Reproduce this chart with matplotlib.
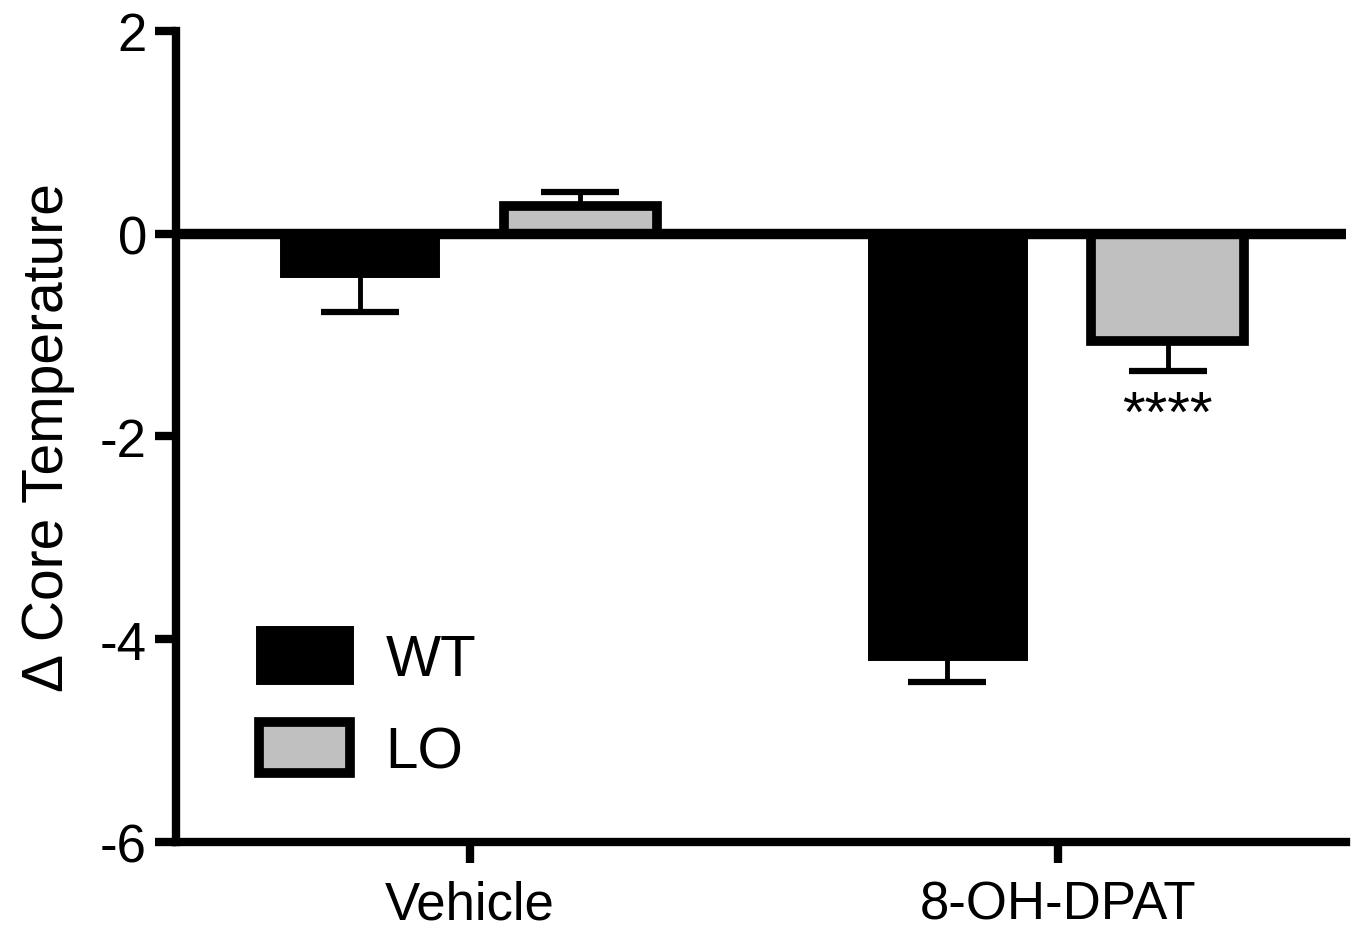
import numpy as np
import matplotlib.pyplot as plt
from matplotlib.patches import Patch

plt.rcParams['font.family'] = ['Liberation Sans', 'DejaVu Sans']

# data
categories = ["Vehicle", "8-OH-DPAT"]
wt_mean = [-0.40, -4.18]
wt_sem = [0.37, 0.24]
lo_mean = [0.27, -1.06]
lo_sem = [0.14, 0.29]
y_ticks = [2, 0, -2, -4, -6]

BAR_W = 0.26
OFF = 0.1875
GREY = "#c0c0c0"

fig = plt.figure(figsize=(13.55, 9.29), dpi=100)
ax = fig.add_axes([0.130, 0.0926, 0.863, 0.873])

x = np.arange(len(categories))


def one_sided(means, errs):
    # error bar only away from zero, like Prism draws it
    lo = [e if m < 0 else 0 for m, e in zip(means, errs)]
    hi = [e if m >= 0 else 0 for m, e in zip(means, errs)]
    return [lo, hi]


ax.bar(x - OFF, wt_mean, BAR_W, color="black", edgecolor="black",
       linewidth=5, zorder=3)
ax.bar(x + OFF, lo_mean, BAR_W, color=GREY, edgecolor="black",
       linewidth=7, zorder=3)
ax.errorbar(x - OFF, wt_mean, yerr=one_sided(wt_mean, wt_sem), fmt="none",
            ecolor="black", elinewidth=3.5, capsize=28, capthick=4.5, zorder=2)
ax.errorbar(x + OFF, lo_mean, yerr=one_sided(lo_mean, lo_sem), fmt="none",
            ecolor="black", elinewidth=3.5, capsize=28, capthick=4.5, zorder=2)

# zero line
ax.axhline(0, color="black", linewidth=7.5, zorder=4)

# significance stars under LO 8-OH-DPAT
ax.text(x[1] + OFF, lo_mean[1] - lo_sem[1] - 0.18, "****", ha="center",
        va="top", fontsize=42)

ax.set_xlim(-0.5, 1.49)
ax.set_ylim(-6, 2)
ax.set_yticks(y_ticks)
ax.set_yticklabels([str(v) for v in y_ticks])
ax.set_xticks(x)
ax.set_xticklabels(categories)

for s in ["top", "right"]:
    ax.spines[s].set_visible(False)
for s in ["left", "bottom"]:
    ax.spines[s].set_linewidth(6)
ax.tick_params(axis="both", width=6, length=15, labelsize=38, pad=6)
ax.tick_params(axis="x", pad=12)

ax.set_ylabel("\u0394 Core Temperature", fontsize=41, labelpad=18)

handles = [Patch(facecolor="black", edgecolor="black", linewidth=5, label="WT"),
           Patch(facecolor=GREY, edgecolor="black", linewidth=7, label="LO")]
ax.legend(handles=handles, loc="lower left", bbox_to_anchor=(0.046, 0.041),
          frameon=False, fontsize=42, handlelength=1.55, handleheight=0.98,
          labelspacing=0.6, handletextpad=0.62, borderpad=0)

fig.savefig("out.png", dpi=100)
